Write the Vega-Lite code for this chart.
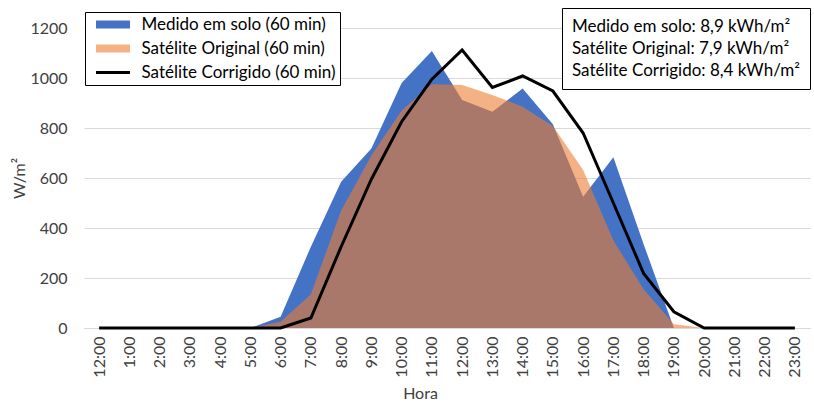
{
  "$schema": "https://vega.github.io/schema/vega-lite/v6.json",
  "autosize": {"type": "none"},
  "padding": {"left": 84, "top": 28, "right": 4, "bottom": 81},
  "width": 726,
  "height": 300,
  "background": "white",
  "title": {"text": "minutos.", "font": "Liberation Serif", "fontSize": 24, "fontWeight": "normal", "color": "black", "anchor": "middle", "dx": -62, "dy": -3, "baseline": "alphabetic", "offset": 0, "frame": "group"},
  "config": {
    "view": {"stroke": null},
    "font": "Lato"
  },
  "data": {"values": [
    {"h": 0, "medido": 0, "original": 0, "corrigido": 0},
    {"h": 1, "medido": 0, "original": 0, "corrigido": 0},
    {"h": 2, "medido": 0, "original": 0, "corrigido": 0},
    {"h": 3, "medido": 0, "original": 0, "corrigido": 0},
    {"h": 4, "medido": 0, "original": 0, "corrigido": 0},
    {"h": 5, "medido": 0, "original": 0, "corrigido": 0},
    {"h": 6, "medido": 45, "original": 25, "corrigido": 0},
    {"h": 7, "medido": 325, "original": 135, "corrigido": 40},
    {"h": 8, "medido": 585, "original": 470, "corrigido": 325},
    {"h": 9, "medido": 718, "original": 690, "corrigido": 595},
    {"h": 10, "medido": 980, "original": 870, "corrigido": 825},
    {"h": 11, "medido": 1108, "original": 975, "corrigido": 995},
    {"h": 12, "medido": 912, "original": 972, "corrigido": 1112},
    {"h": 13, "medido": 865, "original": 932, "corrigido": 962},
    {"h": 14, "medido": 958, "original": 885, "corrigido": 1008},
    {"h": 15, "medido": 815, "original": 808, "corrigido": 948},
    {"h": 16, "medido": 525, "original": 632, "corrigido": 780},
    {"h": 17, "medido": 683, "original": 350, "corrigido": 500},
    {"h": 18, "medido": 335, "original": 155, "corrigido": 218},
    {"h": 19, "medido": 0, "original": 15, "corrigido": 65},
    {"h": 20, "medido": 0, "original": 0, "corrigido": 0},
    {"h": 21, "medido": 0, "original": 0, "corrigido": 0},
    {"h": 22, "medido": 0, "original": 0, "corrigido": 0},
    {"h": 23, "medido": 0, "original": 0, "corrigido": 0}
  ]},
  "layer": [
    {
      "mark": {"type": "area"},
      "encoding": {
        "x": {"field": "h", "type": "ordinal", "scale": {"type": "point", "padding": 0.5},
          "axis": {"title": "Hora", "titleX": 336, "labelExpr": "datum.value == 0 ? '12:00' : datum.value + ':00'", "labelAngle": -90, "labelFont": "Lato", "labelFontSize": 16, "labelColor": "#404040", "labelPadding": 8, "ticks": false, "domainColor": "#D9D9D9", "domainWidth": 1, "grid": false, "titleFont": "Lato", "titleFontSize": 16, "titleFontWeight": "normal", "titleColor": "#404040", "titlePadding": 8}},
        "y": {"field": "medido", "type": "quantitative", "scale": {"domain": [0, 1200], "nice": false},
          "axis": {"title": "W/m²", "format": "d", "values": [0, 200, 400, 600, 800, 1000, 1200], "grid": true, "gridColor": "#D9D9D9", "gridWidth": 1, "domain": false, "ticks": false, "labelPadding": 17, "labelFont": "Lato", "labelFontSize": 16, "labelColor": "#404040", "titleFont": "Lato", "titleFontSize": 16, "titleFontWeight": "normal", "titleColor": "#404040", "titlePadding": 2}},
        "color": {"datum": "Medido em solo (60 min)", "type": "nominal",
          "scale": {"domain": ["Medido em solo (60 min)", "Satélite Original (60 min)", "Satélite Corrigido (60 min)"], "range": ["#4472C4", "rgba(237,125,49,0.6)", "#000000"]},
          "legend": {"title": null, "orient": "none", "legendX": 1, "legendY": -16, "padding": 4, "strokeColor": "black", "fillColor": "white", "labelFont": "Lato", "labelFontSize": 17, "labelColor": "black", "labelLimit": 0, "labelOffset": 20, "rowPadding": 6,
            "symbolSize": 196,
            "symbolOffset": 15.5,
            "symbolType": {"expr": "datum.value === 'Satélite Corrigido (60 min)' ? 'M-2.43,0H2.43' : 'M-2.43,-0.57H2.43V0.57H-2.43Z'"},
            "symbolFillColor": {"expr": "datum.value === 'Medido em solo (60 min)' ? '#4472C4' : (datum.value === 'Satélite Original (60 min)' ? '#F4B183' : 'transparent')"},
            "symbolStrokeColor": {"expr": "datum.value === 'Satélite Corrigido (60 min)' ? '#000000' : 'transparent'"},
            "symbolStrokeWidth": {"expr": "datum.value === 'Satélite Corrigido (60 min)' ? 3 : 0"},
            "symbolOpacity": 1
          }
        }
      }
    },
    {
      "mark": {"type": "area"},
      "encoding": {
        "x": {"field": "h", "type": "ordinal"},
        "y": {"field": "original", "type": "quantitative"},
        "color": {"datum": "Satélite Original (60 min)", "type": "nominal"}
      }
    },
    {
      "mark": {"type": "line", "strokeWidth": 3},
      "encoding": {
        "x": {"field": "h", "type": "ordinal"},
        "y": {"field": "corrigido", "type": "quantitative"},
        "color": {"datum": "Satélite Corrigido (60 min)", "type": "nominal"}
      }
    },
    {
      "data": {"values": [
        {"stat": "Medido em solo: 8,9 kWh/m²"},
        {"stat": "Satélite Original: 7,9 kWh/m²"},
        {"stat": "Satélite Corrigido: 8,4 kWh/m²"}
      ]},
      "mark": {"type": "point", "opacity": 0},
      "encoding": {
        "shape": {"field": "stat", "type": "nominal",
          "scale": {"domain": ["Medido em solo: 8,9 kWh/m²", "Satélite Original: 7,9 kWh/m²", "Satélite Corrigido: 8,4 kWh/m²"]},
          "legend": {"title": null, "orient": "none", "legendX": 478, "legendY": -20, "symbolSize": 0.01, "symbolStrokeWidth": 0.01, "symbolOpacity": 0, "labelOffset": -17, "labelFont": "Lato", "labelFontSize": 17, "labelColor": "black", "labelLimit": 0, "strokeColor": "black", "fillColor": "white", "padding": 10, "rowPadding": 4}
        }
      }
    }
  ]
}
